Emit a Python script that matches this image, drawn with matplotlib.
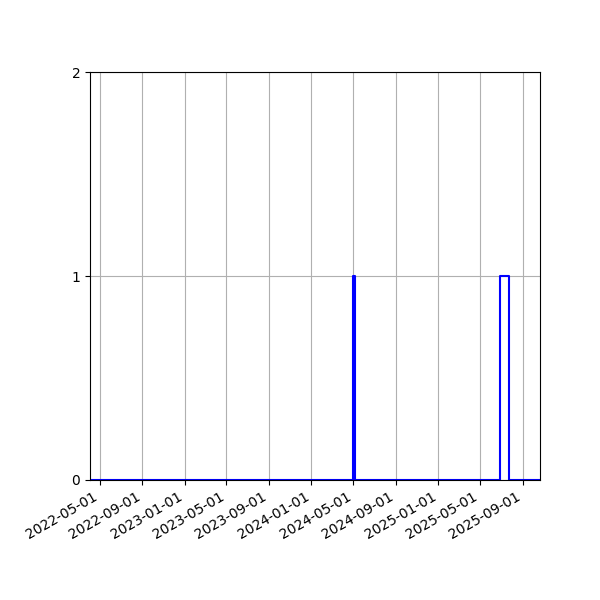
import numpy as np
import pandas as pd
import matplotlib
matplotlib.use('Agg')
from matplotlib import pyplot as plt
import matplotlib.dates as mdates

# change points of the step series
dates = pd.to_datetime(['2022-04-03', '2024-04-29', '2024-05-06',
                        '2025-06-27', '2025-07-23', '2025-10-21'])
values = [0, 1, 0, 1, 0, 0]

fig, ax = plt.subplots(figsize=(6, 6), dpi=100)
ax.step(dates, values, where='post', color='blue', linewidth=1.5)
ax.set_xlim(dates[0], dates[-1])
ax.set_ylim(0, 2)
ax.set_yticks([0, 1, 2])
ax.xaxis.set_major_locator(mdates.MonthLocator(bymonth=[1, 5, 9]))
ax.xaxis.set_major_formatter(mdates.DateFormatter('%Y-%m-%d'))
ax.grid(True)
fig.autofmt_xdate()
fig.subplots_adjust(left=0.15, right=0.9, top=0.88, bottom=0.2)
fig.savefig('out.png')
